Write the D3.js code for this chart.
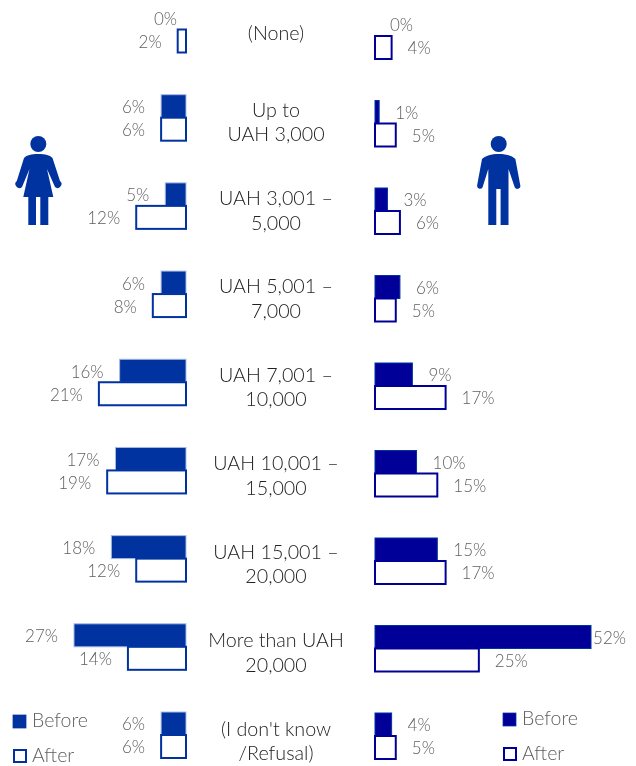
<!DOCTYPE html>
<html>
<head>
<meta charset="utf-8">
<script src="https://cdn.jsdelivr.net/npm/d3@7/dist/d3.min.js"></script>
<style>
  html, body { margin: 0; padding: 0; background: #fff; }
  svg { display: block; font-family: Lato, sans-serif; font-weight: 300; will-change: transform; }
</style>
</head>
<body>
<svg id="chart" width="636" height="766"></svg>
<script>
// Monthly household income brackets, before and after, split by respondent gender.
const brackets = [
  ["(None)"],
  ["Up to", "UAH 3,000"],
  ["UAH 3,001 –", "5,000"],
  ["UAH 5,001 –", "7,000"],
  ["UAH 7,001 –", "10,000"],
  ["UAH 10,001 –", "15,000"],
  ["UAH 15,001 –", "20,000"],
  ["More than UAH", "20,000"],
  ["(I don't know", "/Refusal)"]
];
const womenBefore = [0, 6, 5, 6, 16, 17, 18, 27, 6];
const womenAfter  = [2, 6, 12, 8, 21, 19, 12, 14, 6];
const menBefore   = [0, 1, 3, 6, 9, 10, 15, 52, 4];
const menAfter    = [4, 5, 6, 5, 17, 15, 17, 25, 5];
const seriesNames = ["Before", "After"];

const WOMEN = "#0033a0";
const MEN = "#000099";
const GREY = "#5f5f5f";
const INK = "#222222";

const svg = d3.select("#chart");
const rowIndex = d3.range(brackets.length);

// The two panels share a value scale per side, mirrored around the label column.
const xWomen = d3.scaleLinear().domain([0, 27]).range([186, 74]);
const xMen = d3.scaleLinear().domain([0, 52]).range([375, 591]);

// Each row is anchored at the boundary between its Before and After bars.
const yWomen = d3.scalePoint().domain(rowIndex).range([29.5, 735]);
const yMen = d3.scalePoint().domain(rowIndex).range([36, 736]);
const yLabel = d3.scalePoint().domain(rowIndex).range([34, 741.5]);
const barH = 23;

function panel(cls, before, after, x, y, colour, edge, labelSide) {
  const g = svg.append("g").attr("class", cls);
  const x0 = x(0);
  const sign = labelSide;

  rowIndex.forEach(i => {
    const yMid = y(i);
    if (before[i] > 0) {
      const xv = x(before[i]);
      g.append("rect")
        .attr("x", Math.min(x0, xv))
        .attr("y", yMid - barH)
        .attr("width", Math.abs(xv - x0))
        .attr("height", barH)
        .attr("fill", colour)
        .attr("stroke", edge)
        .attr("stroke-width", 1);
    }
    const xa = x(after[i]);
    g.append("rect")
      .attr("x", Math.min(x0, xa))
      .attr("y", yMid)
      .attr("width", Math.abs(xa - x0))
      .attr("height", barH)
      .attr("fill", "#fff")
      .attr("stroke", colour)
      .attr("stroke-width", 2);

    const pct = (v, yy, gap) => {
      const tx = x(v) + sign * gap;
      const text = g.append("text")
        .attr("x", tx)
        .attr("y", yy)
        .attr("dy", "0.35em")
        .attr("text-anchor", sign < 0 ? "end" : "start")
        .attr("font-size", 17)
        .attr("fill", GREY)
        .text(v + "%");
      // Long labels stay inside the plot's outer margin.
      if (sign > 0) {
        const over = tx + text.node().getComputedTextLength() - 626;
        if (over > 0) text.attr("x", tx - over);
      }
    };
    pct(before[i], yMid - barH / 2 + 1, before[i] === 0 ? (sign < 0 ? 9 : 15) : 16);
    pct(after[i], yMid + barH / 2 + 1, 16);
  });
}

panel("women", womenBefore, womenAfter, xWomen, yWomen, WOMEN, "#a9bbe4", -1);
panel("men", menBefore, menAfter, xMen, yMen, MEN, WOMEN, 1);

// Bracket names in the central column.
const labels = svg.append("g").attr("class", "brackets");
brackets.forEach((lines, i) => {
  const cy = yLabel(i);
  lines.forEach((line, k) => {
    labels.append("text")
      .attr("x", 276)
      .attr("y", cy + (k - (lines.length - 1) / 2) * 24.5 - 0.5)
      .attr("dy", "0.35em")
      .attr("text-anchor", "middle")
      .attr("font-size", 19.7)
      .attr("fill", INK)
      .text(line);
  });
});

// Legends, one per panel.
function legend(x, yBefore, yAfter, colour, edge) {
  const g = svg.append("g").attr("class", "legend");
  g.append("rect").attr("x", x).attr("y", yBefore).attr("width", 13).attr("height", 13)
    .attr("fill", colour).attr("stroke", edge).attr("stroke-width", 0.75);
  g.append("rect").attr("x", x + 1).attr("y", yAfter + 1).attr("width", 12).attr("height", 12)
    .attr("fill", "#fff").attr("stroke", colour).attr("stroke-width", 2);
  [yBefore, yAfter].forEach((yy, k) => {
    g.append("text").attr("x", x + 19).attr("y", yy + 5.5 + k).attr("dy", "0.35em")
      .attr("font-size", 19.5).attr("fill", GREY).text(seriesNames[k]);
  });
}
legend(13, 715, 749, WOMEN, WOMEN);
legend(503, 713, 747, MEN, WOMEN);

// Pictograms for each panel.
const woman = svg.append("g").attr("fill", WOMEN);
woman.append("circle").attr("cx", 38.3).attr("cy", 144).attr("r", 8);
woman.append("path").attr("d",
  "M38.3 154 C31 154 27 155 24 158 L16.8 181 A3 3 0 0 0 22 187 L29.5 169 L23.3 197 L28.3 197 L28.3 225 L36 225 L36 197 L40.3 197 L40.3 225 L48.3 225 L48.3 197 L53.3 197 L47 169 L55 187 A3 3 0 0 0 60 181 L52.5 158 C49.5 155 45.5 154 38.3 154 Z");
const man = svg.append("g").attr("fill", WOMEN);
man.append("circle").attr("cx", 498.7).attr("cy", 144).attr("r", 8);
man.append("path").attr("d",
  "M498.7 154 C491 154 486 155.5 482 159 L477.2 185 A3 3 0 0 0 482.5 187.5 L488.3 169 L488.3 225 L496.3 225 L496.3 189 L500.6 189 L500.6 225 L508.5 225 L508.5 169 L514.8 187.5 A3 3 0 0 0 520.2 185 L515.4 159 C511.4 155.5 506.4 154 498.7 154 Z");
</script>
</body>
</html>
